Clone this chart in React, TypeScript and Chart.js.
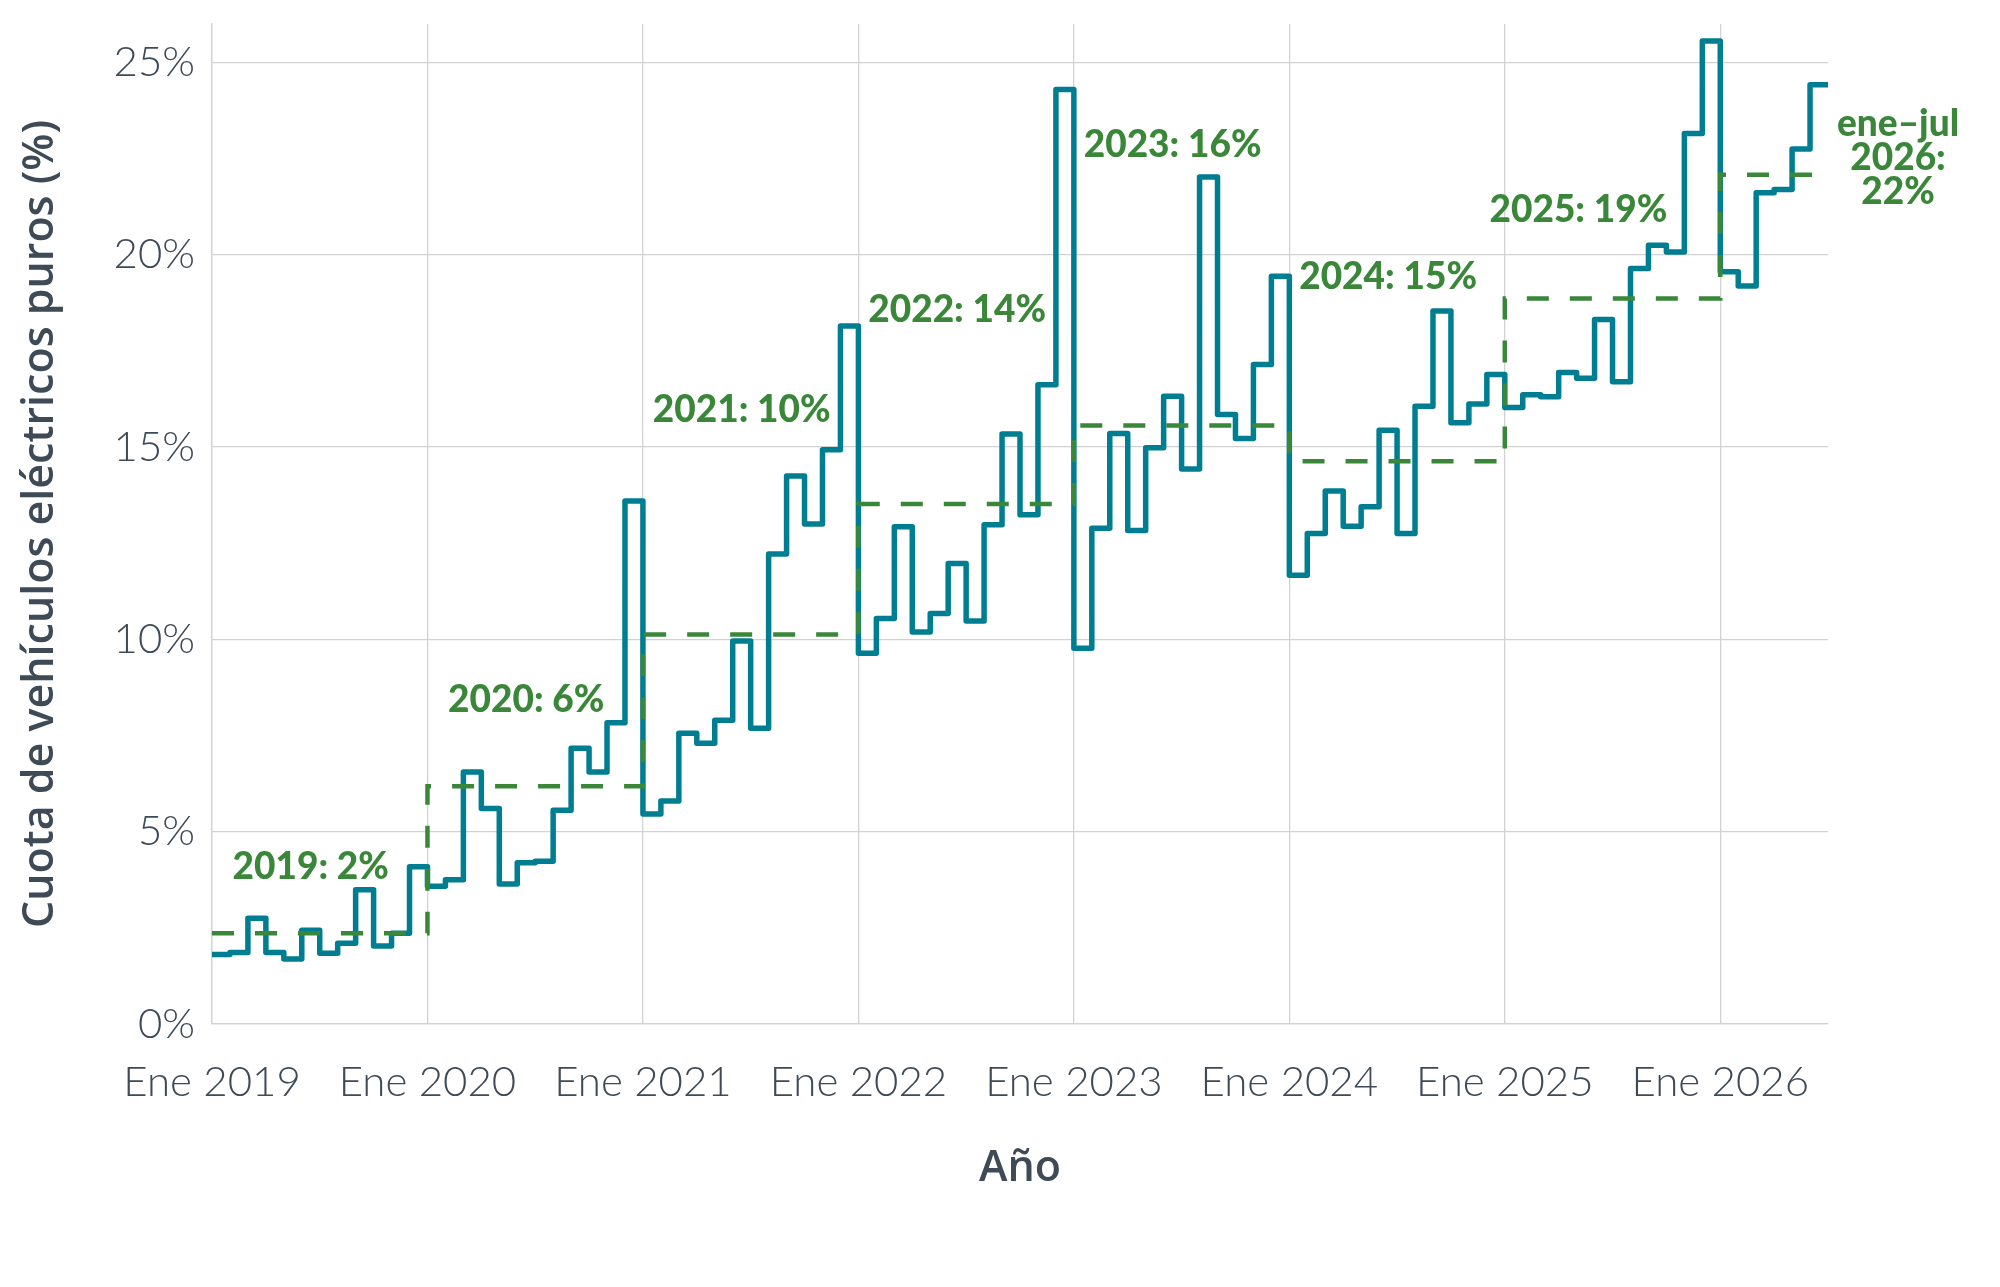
import React, { useEffect, useRef } from "react";
import { Chart, registerables } from "chart.js";

Chart.register(...registerables);

// ---- Data (monthly share of pure electric vehicles, %) ----
const share2019 = [1.81, 1.86, 2.75, 1.86, 1.69, 2.44, 1.84, 2.1, 3.49, 2.03, 2.36, 4.09];
const share2020 = [3.58, 3.75, 6.55, 5.6, 3.64, 4.19, 4.23, 5.56, 7.17, 6.55, 7.83, 13.6];
const share2021 = [5.46, 5.8, 7.56, 7.3, 7.9, 9.96, 7.69, 12.22, 14.25, 13.0, 14.93, 18.15];
const share2022 = [9.64, 10.54, 12.93, 10.19, 10.67, 11.97, 10.48, 12.98, 15.34, 13.24, 16.62, 24.3];
const share2023 = [9.77, 12.89, 15.35, 12.83, 14.98, 16.32, 14.43, 22.02, 15.85, 15.22, 17.15, 19.44];
const share2024 = [11.67, 12.75, 13.86, 12.94, 13.45, 15.44, 12.75, 16.06, 18.54, 15.63, 16.12, 16.89];
const share2025 = [16.03, 16.36, 16.31, 16.94, 16.79, 18.32, 16.7, 19.64, 20.25, 20.07, 23.15, 25.56];
const share2026 = [19.56, 19.19, 21.61, 21.7, 22.75, 24.42];

// Annual averages (dashed line)
const annualAverages = [2.36, 6.18, 10.13, 13.52, 15.56, 14.63, 18.86, 22.08];
const annualLabels = ["2019: 2%", "2020: 6%", "2021: 10%", "2022: 14%", "2023: 16%", "2024: 15%", "2025: 19%"];
const lastLabelLines = ["ene–jul", "2026:", "22%"];

// Axis ticks
const xTickLabels = ["Ene 2019", "Ene 2020", "Ene 2021", "Ene 2022", "Ene 2023", "Ene 2024", "Ene 2025", "Ene 2026"];
const axisEndMonth = 90; // Jul 2026, months since Jan 2019

// Annotation anchor positions (x: months since Jan 2019, y: %)
const labelXPos = [5.5, 17.5, 29.5, 41.5, 53.5, 65.5, 76.1];
const labelYPos = [4.11, 8.45, 15.99, 18.59, 22.88, 19.46, 21.19];
const lastLabelXPos = 93.9;
const lastLabelYPos = 22.55;

const TEAL = "#007E91";
const GREEN = "#3A873A";
const TEXT = "#3E4A56";
const GRID = "#D2D2D2";

const allShares = [share2019, share2020, share2021, share2022, share2023, share2024, share2025, share2026].flat();

function buildSharePoints() {
  const pts = allShares.map((v, i) => ({ x: i, y: v }));
  pts.push({ x: axisEndMonth, y: allShares[allShares.length - 1] });
  return pts;
}

function buildAveragePoints() {
  const pts = annualAverages.map((v, i) => ({ x: i * 12, y: v }));
  pts.push({ x: axisEndMonth, y: annualAverages[annualAverages.length - 1] });
  return pts;
}

const labelPlugin = {
  id: "annualLabels",
  afterDatasetsDraw(chart: any) {
    const { ctx, scales } = chart;
    const xs = scales.x;
    const ys = scales.y;
    const size = 37;
    ctx.save();
    ctx.font = `900 ${size}px Lato`;
    ctx.fillStyle = GREEN;
    ctx.textAlign = "center";
    ctx.textBaseline = "alphabetic";
    const capOff = size * 0.36;
    annualLabels.forEach((t, i) => {
      ctx.fillText(t, xs.getPixelForValue(labelXPos[i]), ys.getPixelForValue(labelYPos[i]) + capOff);
    });
    const lx = xs.getPixelForValue(lastLabelXPos);
    const ly = ys.getPixelForValue(lastLabelYPos);
    const lineGap = 34;
    lastLabelLines.forEach((t, i) => {
      ctx.fillText(t, lx, ly + (i - 1) * lineGap + capOff);
    });
    ctx.restore();
  },
};

export default function App() {
  const canvasRef = useRef<HTMLCanvasElement | null>(null);

  useEffect(() => {
    if (!canvasRef.current) return;
    const chart = new Chart(canvasRef.current, {
      type: "line",
      data: {
        datasets: [
          {
            label: "Media anual",
            data: buildAveragePoints(),
            borderColor: GREEN,
            borderWidth: 4.5,
            borderDash: [22, 21],
            borderCapStyle: "butt",
            stepped: "before",
            pointRadius: 0,
            fill: false,
            order: 0,
          },
          {
            label: "Cuota mensual",
            data: buildSharePoints(),
            borderColor: TEAL,
            borderWidth: 5.5,
            borderJoinStyle: "round",
            borderCapStyle: "butt",
            stepped: "before",
            pointRadius: 0,
            fill: false,
            order: 1,
          },
        ],
      },
      options: {
        animation: false,
        responsive: false,
        devicePixelRatio: 1,
        layout: { padding: { left: 0, right: 172, top: 24, bottom: 0 }, autoPadding: false },
        plugins: { legend: { display: false }, tooltip: { enabled: false } },
        scales: {
          x: {
            type: "linear",
            min: 0,
            max: axisEndMonth,
            afterFit: (s: any) => {
              s.height = 263;
              s.paddingLeft = 0;
              s.paddingRight = 0;
            },
            afterBuildTicks: (s: any) => {
              s.ticks = xTickLabels.map((_, i) => ({ value: i * 12 }));
            },
            ticks: {
              stepSize: 12,
              includeBounds: false,
              autoSkip: false,
              maxRotation: 0,
              minRotation: 0,
              padding: 33,
              color: TEXT,
              font: { family: "Lato", size: 42, weight: 300 },
              callback: (v: any) => xTickLabels[Math.round(Number(v) / 12)] ?? "",
            },
            grid: { color: GRID, lineWidth: 1.3, drawTicks: false },
            border: { color: GRID, width: 1.3 },
            title: {
              display: true,
              text: "Año",
              color: TEXT,
              font: { family: "Open Sans", size: 43, weight: 600 },
              padding: { top: 0, bottom: 92 },
            },
          },
          y: {
            min: 0,
            max: 26,
            afterFit: (s: any) => {
              s.width = 212;
              s.paddingTop = 0;
              s.paddingBottom = 0;
            },
            ticks: {
              stepSize: 5,
              includeBounds: false,
              padding: 17,
              color: TEXT,
              font: { family: "Lato", size: 42, weight: 300 },
              callback: (v: any) => `${v}%`,
            },
            grid: { color: GRID, lineWidth: 1.3, drawTicks: false },
            border: { color: GRID, width: 1.3 },
            title: {
              display: true,
              text: "Cuota de vehículos eléctricos puros (%)",
              color: TEXT,
              font: { family: "Open Sans", size: 43, weight: 600 },
              padding: { top: 15, bottom: 0 },
            },
          },
        },
      },
      plugins: [labelPlugin],
    } as any);
    return () => chart.destroy();
  }, []);

  return (
    <div style={{ position: "absolute", left: 0, top: 0, width: 2000, height: 1287, background: "#fff" }}>
      <canvas ref={canvasRef} width={2000} height={1287} style={{ display: "block", width: 2000, height: 1287 }} />
    </div>
  );
}
